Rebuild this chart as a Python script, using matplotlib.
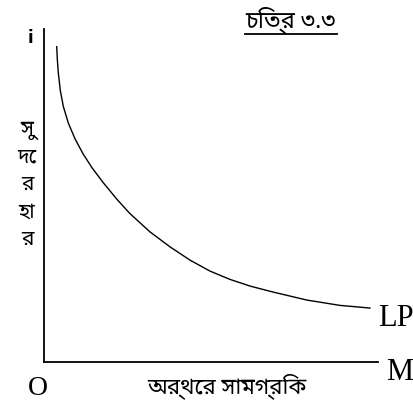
import matplotlib.pyplot as plt
from matplotlib import font_manager

# curve points (axes run 0..10 on both sides)
lp_x = [0.38, 0.40, 0.43, 0.49, 0.58, 0.73, 0.93, 1.17, 1.44, 1.77, 2.18, 2.57,
        3.17, 3.77, 4.37, 4.97, 5.57, 6.17, 6.86, 7.87, 8.86, 9.76]
lp_y = [9.47, 9.07, 8.67, 8.14, 7.67, 7.17, 6.70, 6.25, 5.83, 5.39, 4.89, 4.46,
        3.91, 3.46, 3.06, 2.73, 2.48, 2.28, 2.10, 1.86, 1.70, 1.62]

title = "চিত্র ৩.৩"
ylabel_chars = ["সু", "দে", "র", "হা", "র"]
xlabel = "অর্থের সামগ্রিক"

# pick whatever Bengali-capable font exists, fall back to serif
candidates = ["Noto Sans Bengali", "Noto Serif Bengali", "Lohit Bengali", "FreeSerif",
              "Vrinda", "Kalpurush", "SolaimanLipi"]
have = {f.name for f in font_manager.fontManager.ttflist}
bn = [c for c in candidates if c in have] + ["Liberation Serif", "DejaVu Sans"]
serif = ["Liberation Serif", "DejaVu Serif"]

W, H = 414, 401
fig = plt.figure(figsize=(W / 100, H / 100), dpi=100)
ax = fig.add_axes([44 / W, 1 - 362 / H, (378 - 44) / W, (362 - 29) / H])

ax.plot(lp_x, lp_y, color="black", lw=1.0, solid_joinstyle="round")
ax.set_xlim(0, 10)
ax.set_ylim(0, 10)
for s in ["top", "right"]:
    ax.spines[s].set_visible(False)
for s in ["left", "bottom"]:
    ax.spines[s].set_linewidth(1.3)
ax.set_xticks([])
ax.set_yticks([])

def px(x, y):
    return x / W, 1 - y / H

# labels
fig.text(*px(396, 318), "LP", family=serif, fontsize=22, ha="center", va="center")
fig.text(*px(400, 372), "M", family=serif, fontsize=22, ha="center", va="center")
fig.text(*px(38, 395), "O", family=serif, fontsize=20, ha="center", va="baseline")
fig.text(*px(30, 38), "i", family="DejaVu Sans", fontsize=12, fontweight="bold", ha="center", va="center")

fig.text(*px(290, 20), title, family=bn, fontsize=17, ha="center", va="center")
fig.add_artist(plt.Line2D([245 / W, 337 / W], [1 - 34 / H, 1 - 34 / H], color="black", lw=1.3))

for ch, yy in zip(ylabel_chars, [130, 157, 184, 212, 239]):
    fig.text(*px(27, yy), ch, family=bn, fontsize=15, ha="center", va="center")

fig.text(*px(227, 386), xlabel, family=bn, fontsize=16, ha="center", va="center")

fig.savefig("out.png", dpi=100)
